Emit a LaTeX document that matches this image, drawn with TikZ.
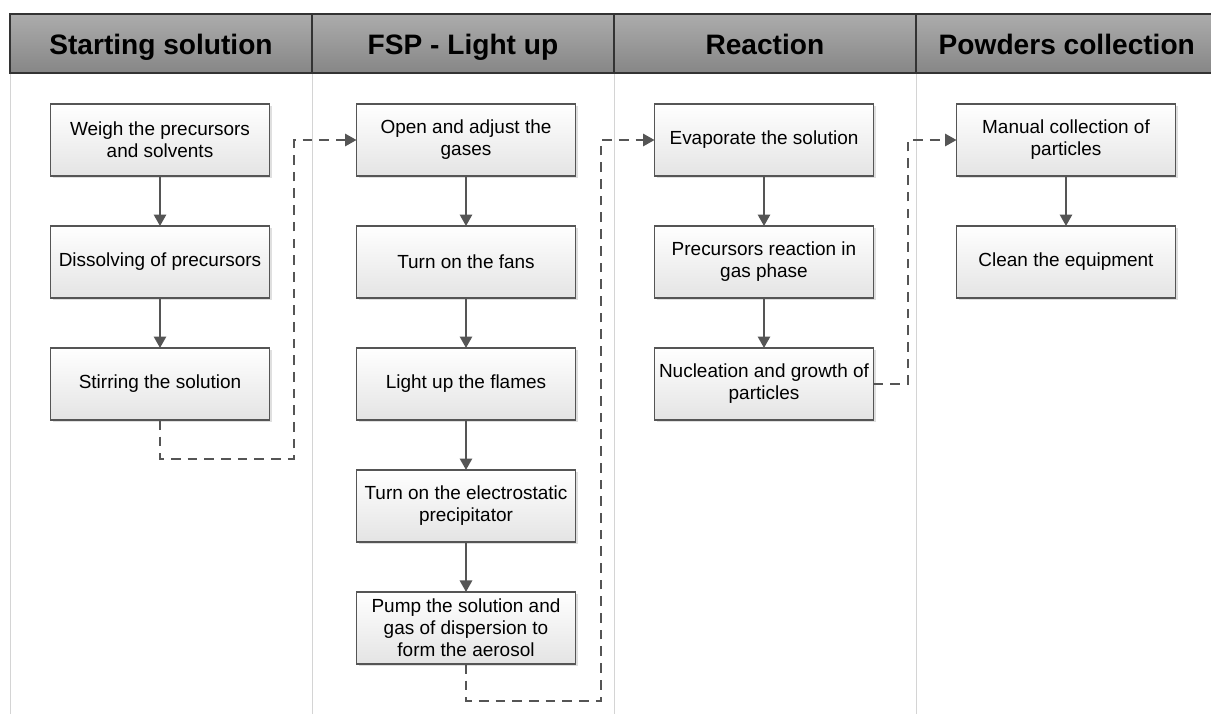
\documentclass[tikz,border=0pt]{standalone}
\usepackage{fontspec}
\setmainfont{Liberation Sans}
\usetikzlibrary{arrows.meta,positioning,shadows}
\definecolor{linegray}{RGB}{85,85,85}
\definecolor{boxgray}{RGB}{228,228,228}
\definecolor{headtop}{RGB}{172,172,172}
\definecolor{headbot}{RGB}{134,134,134}
\definecolor{lanegray}{RGB}{212,212,212}

\begin{document}
\begin{tikzpicture}[x=0.02cm, y=-0.02cm, node distance=1cm,
            box/.style={draw=linegray, line width=0.9pt, top color=white, bottom color=boxgray,
                        minimum width=4.38cm, minimum height=1.44cm, inner sep=2pt, outer sep=0pt,
                        align=center, font=\fontsize{10.8}{12.6}\selectfont,
                        drop shadow={shadow xshift=1.2pt, shadow yshift=-1.2pt, opacity=0.25}},
            head/.style={draw=black!80, line width=0.8pt, top color=headtop, bottom color=headbot,
                         minimum width=6.04cm, minimum height=1.18cm, inner sep=0pt, outer sep=0pt,
                         text height=14pt, text depth=1.4pt,
                         font=\fontsize{16}{19}\selectfont\bfseries},
            lane/.style={draw=lanegray, line width=0.5pt},
            flow/.style={draw=linegray, line width=1.1pt, -{Triangle[length=6.5pt,width=7pt]}},
            jump/.style={flow, dash pattern=on 5.5pt off 4pt}]
        \useasboundingbox (0,0) rectangle (1211,714);

        % lanes
        \foreach \x in {10,312,614,916}
            \draw[lane] (\x,73) -- (\x,714);

        % headers
        \node[head] (h1) at (161,43.5) {Starting solution};
        \node[head, right=0pt of h1] (h2) {FSP - Light up};
        \node[head, right=0pt of h2] (h3) {Reaction};
        \node[head, right=0pt of h3] (h4) {Powders collection};

        % starting solution
        \node[box] (s1) at (160,140) {Weigh the precursors\\and solvents};
        \node[box, below=of s1] (s2) {Dissolving of precursors};
        \node[box, below=of s2] (s3) {Stirring the solution};

        % light up
        \node[box] (f1) at (466,140) {Open and adjust the\\gases};
        \node[box, below=of f1] (f2) {Turn on the fans};
        \node[box, below=of f2] (f3) {Light up the flames};
        \node[box, below=of f3] (f4) {Turn on the electrostatic\\precipitator};
        \node[box, below=of f4] (f5) {Pump the solution and\\gas of dispersion to\\form the aerosol};

        % reaction
        \node[box] (r1) at (764,140) {Evaporate the solution};
        \node[box, below=of r1] (r2) {Precursors reaction in\\gas phase};
        \node[box, below=of r2] (r3) {Nucleation and growth of\\particles};

        % collection
        \node[box] (p1) at (1066,140) {Manual collection of\\particles};
        \node[box, below=of p1] (p2) {Clean the equipment};

        \draw[flow] (s1) -- (s2);
        \draw[flow] (s2) -- (s3);
        \draw[flow] (f1) -- (f2);
        \draw[flow] (f2) -- (f3);
        \draw[flow] (f3) -- (f4);
        \draw[flow] (f4) -- (f5);
        \draw[flow] (r1) -- (r2);
        \draw[flow] (r2) -- (r3);
        \draw[flow] (p1) -- (p2);

        % hand over between lanes
        \coordinate (t1) at (294,459);
        \coordinate (t2) at (601,701);
        \coordinate (t3) at (908,0);
        \draw[jump] (s3.south) |- (t1) |- (f1.west);
        \draw[jump] (f5.south) |- (t2) |- (r1.west);
        \draw[jump] (r3.east) -- (r3.east -| t3) |- (p1.west);
\end{tikzpicture}
\end{document}
